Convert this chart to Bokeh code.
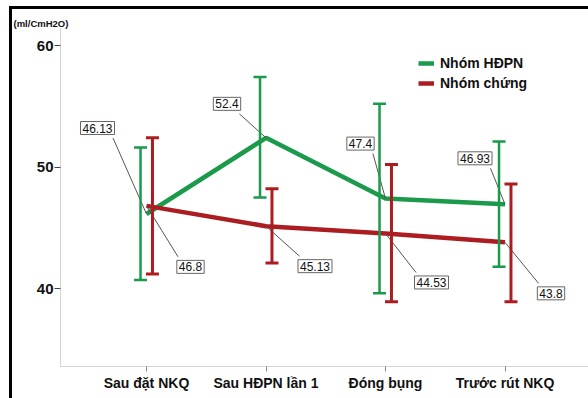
from bokeh.plotting import figure
from bokeh.models import (Range1d, FixedTicker, Legend, LegendItem, Whisker, TeeHead, Label,
                          ColumnDataSource, Div, Spacer)
from bokeh.layouts import column, row
from bokeh.transform import dodge
from bokeh.embed import file_html
from bokeh.resources import INLINE

# ---- data ----
categories = ["Sau đặt NKQ", "Sau HĐPN lần 1", "Đóng bụng", "Trước rút NKQ"]
hdpn_mean = [46.13, 52.4, 47.4, 46.93]
hdpn_upper = [51.6, 57.4, 55.2, 52.1]
hdpn_lower = [40.7, 47.5, 39.6, 41.8]
chung_mean = [46.8, 45.13, 44.53, 43.8]
chung_upper = [52.4, 48.2, 50.2, 48.6]
chung_lower = [41.2, 42.1, 38.9, 38.9]
hdpn_labels = ["46.13", "52.4", "47.4", "46.93"]
chung_labels = ["46.8", "45.13", "44.53", "43.8"]
y_ticks = [40, 50, 60]
series_names = ["Nhóm HĐPN", "Nhóm chứng"]
unit_text = "(ml/CmH2O)"

# ---- style ----
GREEN = "#1a9a4a"
RED = "#ac1d22"
FONT = "'Liberation Sans Narrow', 'Arial Narrow', 'Liberation Sans', sans-serif"
hdpn_off = [(-49, -86), (-39, -34), (-25, -55), (-30, -46)]
chung_off = [(44, 61), (49, 40), (46, 49), (46, 51)]

W, H = 576, 389
ML, MR, MT, MB = 48, 0, 19, 32
FW, FH = W - ML - MR, H - MT - MB
x_start = -86 / 119.5
x_end = x_start + FW / 119.5
y_end = 40 + 260 / 12.15
y_start = y_end - FH / 12.15
pxx = FW / (x_end - x_start)
pxy = FH / (y_end - y_start)

p = figure(width=W, height=H, output_backend="svg", toolbar_location=None,
           x_range=Range1d(x_start, x_end), y_range=Range1d(y_start, y_end),
           min_border_left=ML, min_border_right=MR, min_border_top=MT, min_border_bottom=MB,
           margin=0)
p.outline_line_color = None
p.xgrid.visible = False
p.ygrid.visible = False

xs = list(range(len(categories)))

p.yaxis.ticker = FixedTicker(ticks=y_ticks)
p.yaxis.minor_tick_line_color = None
p.yaxis.axis_line_color = "#d4d4d4"
p.yaxis.major_tick_line_color = "#444444"
p.yaxis.major_tick_in = 0
p.yaxis.major_tick_out = 6
p.yaxis.major_label_standoff = 1
p.yaxis.major_label_text_font = FONT
p.yaxis.major_label_text_font_style = "bold"
p.yaxis.major_label_text_font_size = "15px"
p.yaxis.major_label_text_color = "#111111"

p.xaxis.ticker = FixedTicker(ticks=xs)
p.xaxis.major_label_overrides = {i: c for i, c in enumerate(categories)}
p.xaxis.minor_tick_line_color = None
p.xaxis.axis_line_color = "#d4d4d4"
p.xaxis.major_tick_line_color = "#888888"
p.xaxis.major_tick_in = 0
p.xaxis.major_tick_out = 5
p.xaxis.major_label_standoff = 3
p.xaxis.major_label_text_font = FONT
p.xaxis.major_label_text_font_style = "bold"
p.xaxis.major_label_text_font_size = "14px"
p.xaxis.major_label_text_color = "#111111"

for mean, up, lo, col, dx, lw in [(hdpn_mean, hdpn_upper, hdpn_lower, GREEN, -0.05, 2.5),
                                  (chung_mean, chung_upper, chung_lower, RED, 0.05, 3)]:
    src = ColumnDataSource(dict(x=xs, upper=up, lower=lo))
    w = Whisker(source=src, base=dodge("x", dx), upper="upper", lower="lower",
                line_color=col, line_width=lw, level="glyph",
                upper_head=TeeHead(size=13, line_color=col, line_width=lw),
                lower_head=TeeHead(size=13, line_color=col, line_width=lw))
    p.add_layout(w)

r_g = p.line(xs, hdpn_mean, line_color=GREEN, line_width=4.5)
r_r = p.line(xs, chung_mean, line_color=RED, line_width=4.5)

for mean, labs, offs, corner in [(hdpn_mean, hdpn_labels, hdpn_off, 1), (chung_mean, chung_labels, chung_off, -1)]:
    x0s, y0s, x1s, y1s = [], [], [], []
    for i, (v, t, (dx, dy)) in enumerate(zip(mean, labs, offs)):
        hw = 3.1 * len(t)
        hh = 10
        cx = dx + corner * hw
        cy = dy + corner * hh
        x0s.append(i); y0s.append(v)
        x1s.append(i + cx / pxx); y1s.append(v - cy / pxy)
        p.add_layout(Label(x=i, y=v, x_offset=dx, y_offset=-dy, text=t,
                           text_align="center", text_baseline="middle",
                           text_font=FONT, text_font_size="12px", text_color="#111111",
                           border_line_color="#666666", border_line_width=1,
                           background_fill_color="white", padding=2))
    p.segment(x0s, y0s, x1s, y1s, line_color="#555555", line_width=1)

legend = Legend(items=[LegendItem(label=series_names[0], renderers=[r_g]),
                       LegendItem(label=series_names[1], renderers=[r_r])],
                location=(358, FH - 65), orientation="vertical",
                padding=0, margin=0, spacing=0, label_height=20, glyph_height=20,
                glyph_width=16, label_standoff=6,
                border_line_color=None, background_fill_alpha=0,
                label_text_font=FONT, label_text_font_style="bold",
                label_text_font_size="14px", label_text_color="#111111")
p.add_layout(legend)

p.title.text = unit_text
p.title.align = "left"
p.title.offset = -47
p.title.text_font = FONT
p.title.text_font_style = "bold"
p.title.text_font_size = "9.5px"
p.title.text_color = "#111111"
p.title.standoff = 0

# page frame: black rules on the left and top
top_gap = Spacer(width=588, height=6, margin=0)
top_rule = row(Spacer(width=9, height=3, margin=0),
               Div(text="", width=579, height=3, margin=0, styles={"background-color": "black"}),
               spacing=0)
body = row(Spacer(width=9, height=H, margin=0),
           Div(text="", width=3, height=H, margin=0, styles={"background-color": "black"}),
           p, spacing=0)
layout = column(top_gap, top_rule, body, spacing=0)

open("out.html", "w").write(file_html(layout, INLINE))
